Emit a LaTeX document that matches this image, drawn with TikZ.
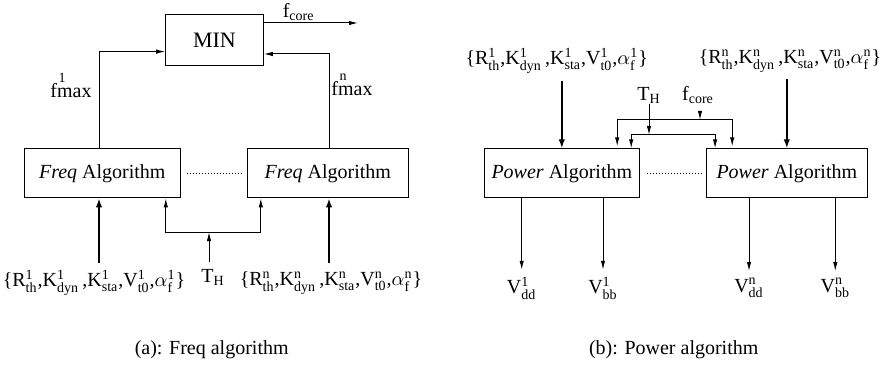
\documentclass[tikz,border=0pt]{standalone}
\usepackage{fontspec}
\setmainfont{Liberation Serif}
\usetikzlibrary{arrows.meta,positioning}
\newcommand{\sym}[3]{$\mathrm{#1}^{\mathrm{#2}}_{\mathrm{#3}}$}
\newcommand{\prm}[1]{\{\sym{R}{#1}{th},\sym{K}{#1}{dyn}\,,\sym{K}{#1}{sta},\sym{V}{#1}{t0},$\alpha^{\mathrm{#1}}_{\mathrm{f}}$\}}
\newcommand{\fmx}[1]{\makebox[0pt][l]{\raisebox{7.5pt}{\hspace{4.1pt}\scriptsize #1}}fmax}
\tikzset{
  algo/.style={draw, line width=0.5pt, minimum height=24.5pt, inner sep=0pt, font=\fontsize{10}{12}\selectfont},
  minbx/.style={draw, line width=0.5pt, minimum width=48.8pt, minimum height=25.8pt, font=\fontsize{11}{13}\selectfont},
  arr/.style={-{Latex[length=4.5pt,width=2.2pt]}, line width=0.5pt},
  big/.style={-{Latex[length=4.5pt,width=3.2pt]}, line width=1.1pt},
  lbl/.style={font=\fontsize{10}{12}\selectfont},
  dots/.style={line width=0.5pt, dash pattern=on 0.4pt off 1.1pt},
}
\begin{document}
\begin{tikzpicture}[x=0.5pt,y=-0.5pt]
  \useasboundingbox (0,0) rectangle (883,369);
  % (a) freq algorithm
  \node[minbx] (min) at (214.5,40) {MIN};
  \node[algo, minimum width=78pt] (freqa) at (102.3,173.4) {\textit{Freq} Algorithm};
  \node[algo, minimum width=80.5pt, right=33pt of freqa] (freqb) {\textit{Freq} Algorithm};
  \draw[dots] ([xshift=3pt]freqa.east) -- ([xshift=-2pt]freqb.west);
  \node[lbl] (fmxa) at (71,85) {\fmx{1}};
  \node[lbl] (fmxb) at (352,85) {\fmx{n}};
  \coordinate (ina) at (99,263);
  \coordinate (inb) at (329,263);
  \coordinate (fcout) at (358,23);
  \draw[arr] (ina |- freqa.north) |- ([yshift=-5.8pt]min.west);
  \draw[arr] (inb |- freqb.north) |- ([yshift=-7pt]min.east);
  \draw[arr] (min.east |- fcout) -- (fcout) node[lbl, pos=0.37, above, inner sep=1pt] (fca) {$\mathrm{f}_{\mathrm{core}}$};
  \node[lbl] (para) at (94,283) {\prm{1}};
  \node[lbl] (parb) at (331,283) {\prm{n}};
  \draw[big] (ina) -- (ina |- freqa.south);
  \draw[big] (inb) -- (inb |- freqb.south);
  \node[lbl] (tha) at (213,277) {$\mathrm{T}_{\mathrm{H}}$};
  \coordinate (thj) at (209,232);
  \draw[arr] (tha.north -| thj) -- (thj);
  \draw[arr] (thj) -| ([xshift=-7.5pt]freqa.south east);
  \draw[arr] (thj) -| ([xshift=7pt]freqb.south west);
  \node[lbl] (capa) at (211.7,350) {(a): Freq algorithm};
  % (b) power algorithm
  \node[algo, minimum width=77.5pt] (powa) at (561.8,173.4) {\textit{Power} Algorithm};
  \node[algo, minimum width=80.5pt, right=33pt of powa] (powb) {\textit{Power} Algorithm};
  \draw[dots] ([xshift=3.7pt]powa.east) -- ([xshift=-2pt]powb.west);
  \node[lbl] (parc) at (556.7,61) {\prm{1}};
  \node[lbl] (pard) at (790,61) {\prm{n}};
  \draw[big] (parc.south -| powa.north) -- (powa.north);
  \draw[big] (pard.south -| powb.north) -- (powb.north);
  \node[lbl, inner sep=0.5pt] (thr) at (649,95) {$\mathrm{T}_{\mathrm{H}}$};
  \node[lbl] (fcr) at (698,95) {$\mathrm{f}_{\mathrm{core}}$};
  \coordinate (thk) at (649,135);
  \coordinate (fck) at (700,120);
  \draw[arr] (thr) -- (thk);
  \draw[arr] (thk) -| ([xshift=-4.3pt]powa.north east);
  \draw[arr] (thk) -| ([xshift=4.65pt]powb.north west);
  \draw[arr] (fcr.south -| fck) -- (fck);
  \draw[arr] (fck) -| ([xshift=-11.3pt,yshift=1pt]powa.north east);
  \draw[arr] (fck) -| ([xshift=13.2pt,yshift=1pt]powb.north west);
  \node[lbl] (vda) at (521.7,288) {\sym{V}{1}{dd}};
  \node[lbl] (vba) at (603,288) {\sym{V}{1}{bb}};
  \node[lbl] (vdb) at (749,288) {\sym{V}{n}{dd}};
  \node[lbl] (vbb) at (835.3,288) {\sym{V}{n}{bb}};
  \foreach \v/\b in {vda/powa, vba/powa, vdb/powb, vbb/powb}
    \draw[arr] (\b.south -| \v) -- (\v);
  \node[lbl] (capb) at (673.7,350) {(b): Power algorithm};
\end{tikzpicture}
\end{document}
